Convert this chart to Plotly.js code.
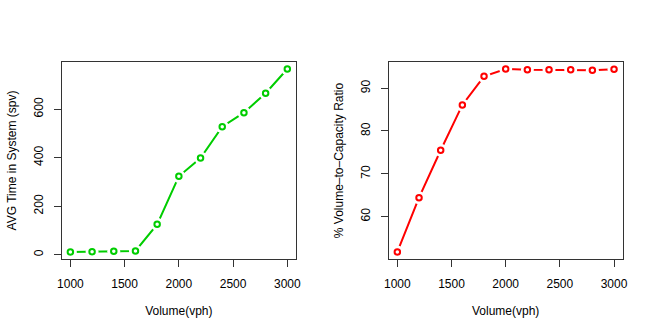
<!DOCTYPE html>
<html>
<head>
<meta charset="utf-8">
<script src="https://cdn.plot.ly/plotly-3.0.1.min.js"></script>
<style>html,body{margin:0;padding:0;background:#fff;}#chart{width:655px;height:336px;}</style>
</head>
<body>
<div id="chart"></div>
<script>
const volume = [1000, 1200, 1400, 1600, 1800, 2000, 2200, 2400, 2600, 2800, 3000];
const avgTime = [11, 12, 14, 15, 125, 323, 399, 528, 586, 666, 766];
const vcRatio = [51.7, 64.4, 75.5, 86.1, 92.8, 94.5, 94.3, 94.3, 94.3, 94.2, 94.45];
const xTicks = [1000, 1500, 2000, 2500, 3000];
const leftYTicks = [0, 200, 400, 600];
const rightYTicks = [60, 70, 80, 90];

const GREEN = '#00CD00';
const RED = '#FF0000';
const FONT = 'Liberation Sans, Arial, Helvetica, sans-serif';

function rRange(v) {
  const mn = Math.min(...v), mx = Math.max(...v);
  const pad = 0.04 * (mx - mn);
  return [mn - pad, mx + pad];
}

function seriesTraces(x, y, color, xa, ya) {
  return [
    {x: x, y: y, xaxis: xa, yaxis: ya, type: 'scatter', mode: 'lines',
     line: {color: color, width: 2}, hoverinfo: 'skip', showlegend: false},
    {x: x, y: y, xaxis: xa, yaxis: ya, type: 'scatter', mode: 'markers',
     marker: {symbol: 'circle', size: 13, color: '#ffffff', line: {width: 0}},
     hoverinfo: 'skip', showlegend: false},
    {x: x, y: y, xaxis: xa, yaxis: ya, type: 'scatter', mode: 'markers',
     marker: {symbol: 'circle', size: 5.5, color: '#ffffff', line: {color: color, width: 2}},
     showlegend: false}
  ];
}

const data = [].concat(
  seriesTraces(volume, avgTime, GREEN, 'x', 'y'),
  seriesTraces(volume, vcRatio, RED, 'x2', 'y2')
);

function xAxis(domain, anchor) {
  return {
    domain: domain, anchor: anchor, range: rRange(volume),
    tickvals: xTicks, ticktext: xTicks.map(String),
    ticks: 'outside', ticklen: 7, tickwidth: 1, tickcolor: '#333',
    showline: true, mirror: true, linecolor: '#333', linewidth: 1,
    showgrid: false, zeroline: false, automargin: false,
    ticklabelstandoff: 6,
    tickfont: {family: FONT, size: 12, color: '#000'},
    title: {text: 'Volume(vph)', font: {family: FONT, size: 12, color: '#000'}, standoff: 16}
  };
}
function yAxis(domain, anchor, vals, range, title) {
  return {
    domain: domain, anchor: anchor, range: range,
    tickvals: vals, ticktext: vals.map(String), tickangle: -90,
    ticks: 'outside', ticklen: 7, tickwidth: 1, tickcolor: '#333',
    showline: true, mirror: true, linecolor: '#333', linewidth: 1,
    showgrid: false, zeroline: false, automargin: false,
    ticklabelstandoff: 6,
    tickfont: {family: FONT, size: 12, color: '#000'},
    title: {text: title, font: {family: FONT, size: 12, color: '#000'}, standoff: 12}
  };
}

const yDom = [0.2283, 0.8164];
const layout = {
  width: 655, height: 336,
  margin: {l: 0, r: 0, t: 0, b: 0},
  paper_bgcolor: '#fff', plot_bgcolor: '#fff',
  showlegend: false,
  xaxis: xAxis([0.0942, 0.4519], 'y'),
  yaxis: yAxis(yDom, 'x', leftYTicks, rRange(avgTime), 'AVG Time in System (spv)'),
  xaxis2: xAxis([0.5934, 0.9507], 'y2'),
  yaxis2: yAxis(yDom, 'x2', rightYTicks, rRange(vcRatio), '% Volume\u2013to\u2013Capacity Ratio')
};

Plotly.newPlot('chart', data, layout, {displayModeBar: false, staticPlot: true});
</script>
</body>
</html>
